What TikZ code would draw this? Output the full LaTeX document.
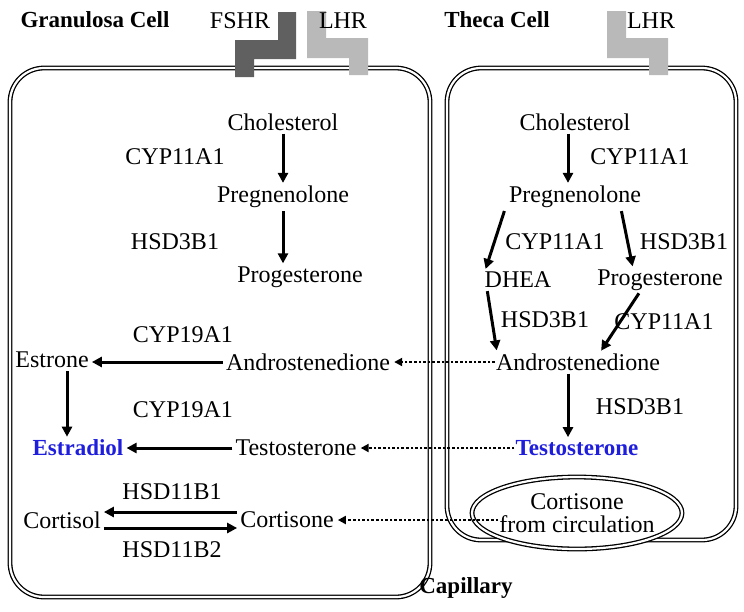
\documentclass[tikz,border=0pt]{standalone}
\usepackage{fontspec}
\setmainfont{Liberation Serif}
\usetikzlibrary{arrows.meta}
\definecolor{estblue}{RGB}{30,30,220}
\tikzset{
	txt/.style = {inner sep = 1pt, font = \fontsize{24}{26}\selectfont},
	ttl/.style = {txt, font = \fontsize{23}{25}\selectfont\bfseries},
	hot/.style = {ttl, text = estblue},
	cell/.style = {draw, double, double distance = 2.2pt, line width = 1.3pt, rounded corners = 34pt},
	rx/.style = {-{Triangle[length=10pt,width=10pt]}, line width = 3pt, shorten <= 2pt, shorten >= 2pt},
	dif/.style = {-{Triangle[length=8pt,width=8pt]}, line width = 2.6pt, dotted, shorten >= 3pt}
}
\begin{document}
\begin{tikzpicture}[x = 1pt, y = -1pt]
	\useasboundingbox (0,0) rectangle (744,611);
	% cells
	\draw [cell] (10,68) rectangle (430,597);
	\draw [cell] (447,68) rectangle (736,540);
	\draw [draw, fill = white, double, double distance = 2.2pt, line width = 1.3pt] (577,513) ellipse (105pt and 36pt);
	% receptors
	\fill [gray!75!black] (278,12) -- (296,12) -- (296,59) -- (254,59) -- (254,77) -- (235,77) -- (235,40) -- (278,40) -- cycle;
	\fill [gray!55] (307,11) -- (326,11) -- (326,38) -- (368,38) -- (368,75) -- (349,75) -- (349,58) -- (307,58) -- cycle;
	\fill [gray!55] (607,11) -- (626,11) -- (626,38) -- (668,38) -- (668,75) -- (649,75) -- (649,58) -- (607,58) -- cycle;
	\node [ttl] (gtitle) at (95,20) {Granulosa Cell};
	\node [txt] (fshr) at (240,21) {FSHR};
	\node [txt] (glhr) at (343,21) {LHR};
	\node [ttl] (ttitle) at (497,20) {Theca Cell};
	\node [txt] (tlhr) at (651,21) {LHR};
	\node [ttl] (cap) at (466,588) {Capillary};
	% granulosa
	\node [txt] (gchol) at (283,122) {Cholesterol};
	\node [txt] (e1) at (175,157) {CYP11A1};
	\node [txt] (gpreg) at (283,197) {Pregnenolone};
	\node [txt] (e2) at (175,242) {HSD3B1};
	\node [txt] (gprog) at (300,277) {Progesterone};
	\node [txt] (e3) at (183,335) {CYP19A1};
	\node [txt] (estrone) at (52,360) {Estrone};
	\node [txt] (gandro) at (308,362) {Androstenedione};
	\node [txt] (e4) at (183,410) {CYP19A1};
	\node [hot] (estradiol) at (78,448) {Estradiol};
	\node [txt] (gtest) at (296,448) {Testosterone};
	\node [txt] (e5) at (172,492) {HSD11B1};
	\node [txt] (cortisol) at (62,520) {Cortisol};
	\node [txt] (gcortisone) at (287,520) {Cortisone};
	\node [txt] (e6) at (172,550) {HSD11B2};
	% theca
	\node [txt] (tchol) at (575,122) {Cholesterol};
	\node [txt] (e7) at (640,157) {CYP11A1};
	\node [txt] (tpreg) at (575,197) {Pregnenolone};
	\node [txt] (e8) at (555,242) {CYP11A1};
	\node [txt] (e9) at (684,242) {HSD3B1};
	\node [txt] (dhea) at (518,280) {DHEA};
	\node [txt] (tprog) at (660,280) {Progesterone};
	\node [txt] (e10) at (545,320) {HSD3B1};
	\node [txt] (e11) at (664,322) {CYP11A1};
	\node [txt] (tandro) at (578,362) {Androstenedione};
	\node [txt] (e12) at (640,407) {HSD3B1};
	\node [hot] (ttest) at (577,448) {Testosterone};
	\node [txt, align = center] (ccirc) at (577,513) {Cortisone\\[-3pt]from circulation};
	% reactions
	\draw [rx] (gchol.south -| 283,0) -- (gpreg.north -| 283,0);
	\draw [rx] (gpreg.south -| 283,0) -- (gprog.north -| 283,0);
	\draw [rx] (gandro.west) -- (estrone.east |- gandro.west);
	\draw [rx] (estrone.south -| 67,0) -- (estradiol.north -| 67,0);
	\draw [rx] (gtest.west) -- (estradiol.east |- gtest.west);
	\draw [rx] (gcortisone.west |- 0,512) -- (cortisol.east |- 0,512);
	\draw [rx] (cortisol.east |- 0,528) -- (gcortisone.west |- 0,528);
	\draw [rx] (tchol.south -| 568,0) -- (tpreg.north -| 568,0);
	\draw [rx] (tpreg.south -| 505,0) -- (dhea.north -| 485,0);
	\draw [rx] (tpreg.south -| 621,0) -- (tprog.north -| 633,0);
	\draw [rx] (dhea.south -| 487,0) -- (tandro.north -| 497,0);
	\draw [rx] (tprog.south -| 640,0) -- (tandro.north -| 600,0);
	\draw [rx] (tandro.south -| 568,0) -- (ttest.north -| 568,0);
	% transport
	\draw [dif] (tandro.west) -- (gandro.east |- tandro.west);
	\draw [dif] (ttest.west) -- (gtest.east |- ttest.west);
	\draw [dif] (ccirc.west |- 0,520) -- (gcortisone.east);
\end{tikzpicture}
\end{document}
